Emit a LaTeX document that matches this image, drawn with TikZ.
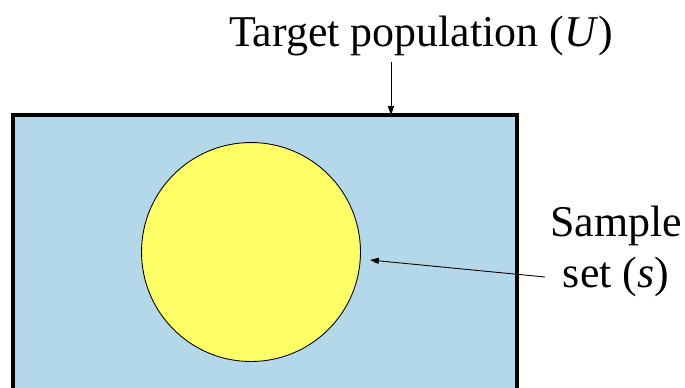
\documentclass[tikz,border=0pt]{standalone}
\usepackage{fontspec}
\setmainfont{Liberation Serif}
\definecolor{popblue}{RGB}{179, 216, 234}
\definecolor{sampyellow}{RGB}{255, 255, 102}
\usetikzlibrary{arrows.meta, positioning}

\begin{document}
\begin{tikzpicture}[
    x=0.02cm, y=-0.02cm,
    popbox/.style={draw=black, line width=2.2pt, fill=popblue},
    sample/.style={circle, draw=black, line width=0.5pt, fill=sampyellow, minimum size=4.38cm, inner sep=0pt},
    arrow/.style={-{Triangle[length=5pt, width=3.5pt]}, line width=0.5pt},
    label/.style={font=\fontsize{25}{29}\selectfont, align=center, inner sep=0pt},
  ]
  \useasboundingbox (0,0) rectangle (685,387);
  \clip (0,0) rectangle (685,387);

  % Population and sample
  \draw[popbox] (13,115) rectangle (517,420);
  \coordinate (poptop) at (391,115);
  \node[sample] (samp) at (251,252) {};

  % Labels
  \node[label] (poplabel) at (421,36) {Target population (\textit{U})};
  \node[label] (samplabel) at (616,251) {Sample\\set (\textit{s})};

  % Arrows
  \draw[arrow] (poplabel.south -| poptop) ++(0,6) -- (poptop);
  \coordinate (sampfrom) at (545,277);
  \draw[arrow] (sampfrom) -- (370,260);

\end{tikzpicture}
\end{document}
